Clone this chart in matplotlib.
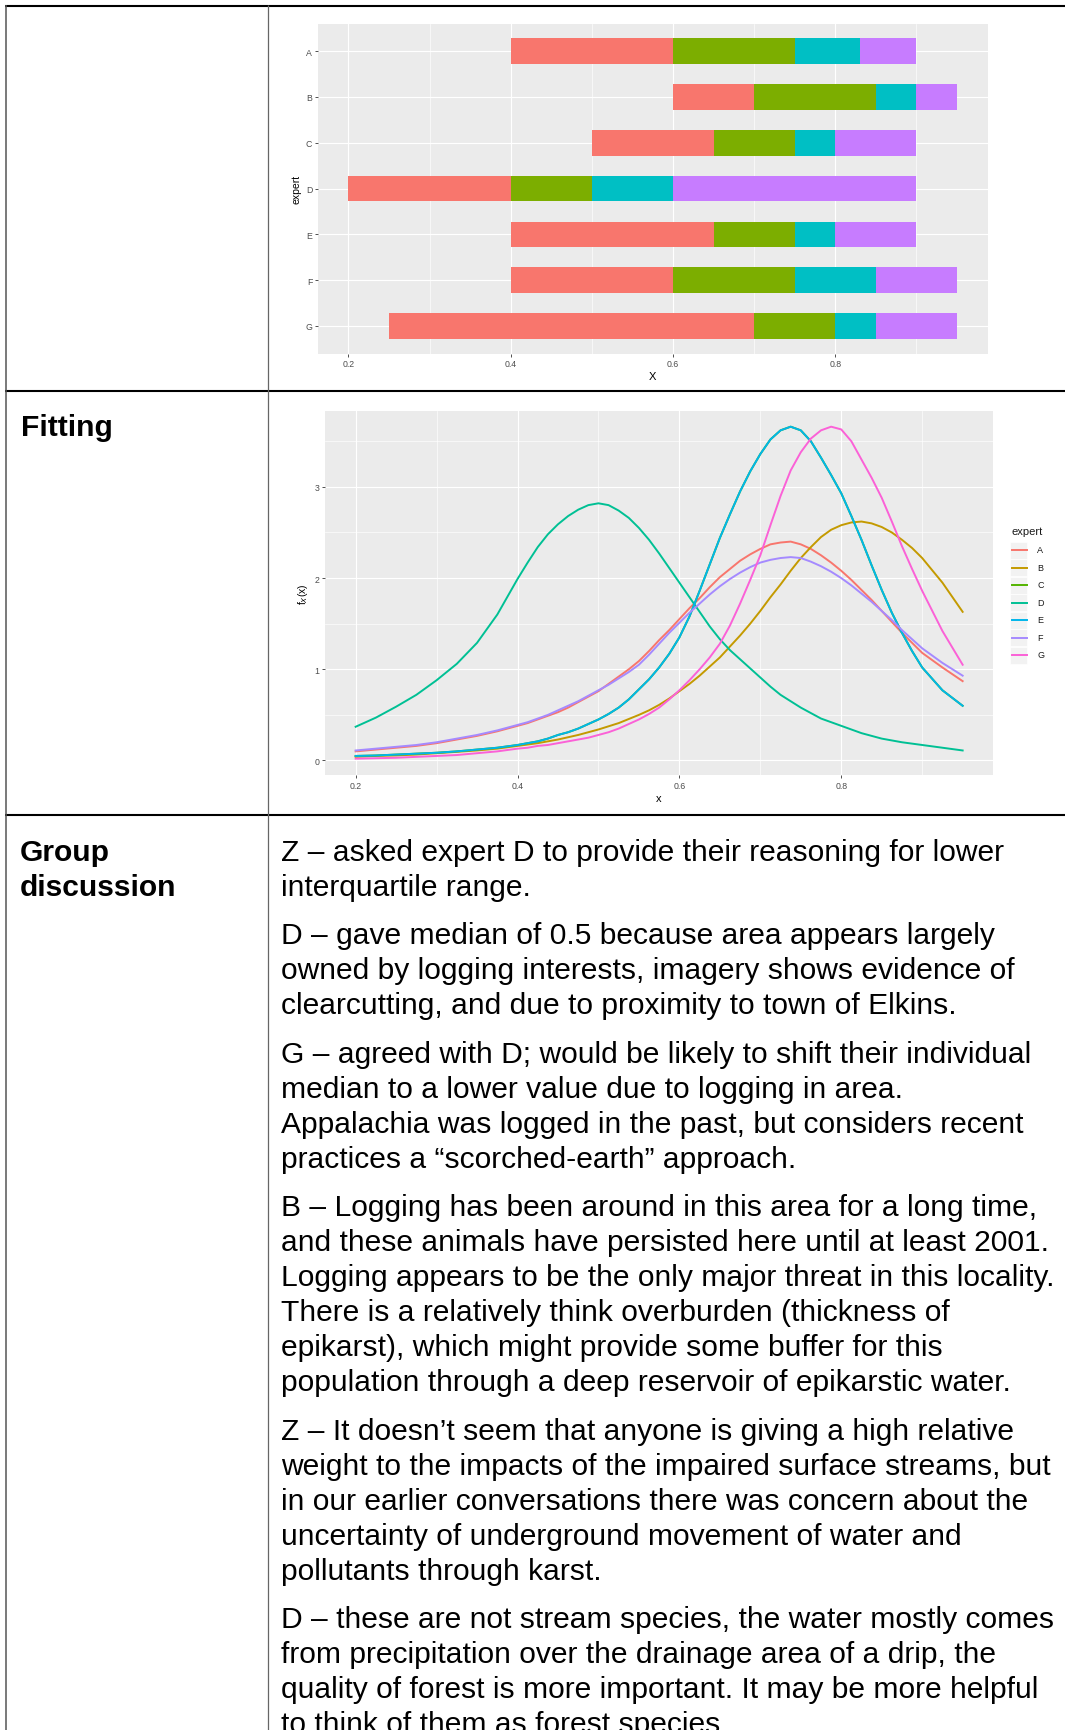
import numpy as np
import matplotlib.pyplot as plt
from matplotlib.patches import Rectangle

plt.rcParams['font.family'] = ['Liberation Sans', 'DejaVu Sans']

W, H = 1065, 1731

# ---------------------------------------------------------------------------
# Elicited values per expert (lowest, lower quartile, median, upper quartile, highest)
experts = ['A', 'B', 'C', 'D', 'E', 'F', 'G']
lowest  = [0.40, 0.60, 0.50, 0.20, 0.40, 0.40, 0.25]
q_low   = [0.60, 0.70, 0.65, 0.40, 0.65, 0.60, 0.70]
median  = [0.75, 0.85, 0.75, 0.50, 0.75, 0.75, 0.80]
q_high  = [0.83, 0.90, 0.80, 0.60, 0.80, 0.85, 0.85]
highest = [0.90, 0.95, 0.90, 0.90, 0.90, 0.95, 0.95]
seg_colors = ['#F8766D', '#7CAE00', '#00BFC4', '#C77CFF']

# Fitted densities f_X(x), one list per expert
x_grid = [0.2, 0.225, 0.25, 0.275, 0.3, 0.325, 0.35, 0.375, 0.4,
          0.4125, 0.425, 0.4375, 0.45, 0.4625, 0.475, 0.4875, 0.5, 0.5125, 0.525,
          0.5375, 0.55, 0.5625, 0.575, 0.5875, 0.6, 0.6125, 0.625, 0.6375, 0.65,
          0.6625, 0.675, 0.6875, 0.7, 0.7125, 0.725, 0.7375, 0.75, 0.7625, 0.775,
          0.7875, 0.8, 0.8125, 0.825, 0.8375, 0.85, 0.8625, 0.875, 0.8875, 0.9,
          0.925, 0.95]
dens_A = [0.10, 0.12, 0.14, 0.16, 0.19, 0.23, 0.27, 0.32, 0.38,
          0.41, 0.45, 0.49, 0.53, 0.58, 0.64, 0.70, 0.76, 0.84, 0.92,
          1.00, 1.09, 1.20, 1.32, 1.43, 1.55, 1.67, 1.78, 1.90, 2.01,
          2.10, 2.19, 2.26, 2.32, 2.37, 2.39, 2.40, 2.37, 2.32, 2.25,
          2.17, 2.08, 1.98, 1.87, 1.76, 1.64, 1.52, 1.40, 1.29, 1.18,
          1.02, 0.87]
dens_B = [0.04, 0.05, 0.055, 0.065, 0.08, 0.095, 0.11, 0.13, 0.16,
          0.175, 0.19, 0.21, 0.23, 0.255, 0.28, 0.31, 0.34, 0.375, 0.41,
          0.455, 0.50, 0.55, 0.61, 0.68, 0.76, 0.84, 0.93, 1.03, 1.13,
          1.25, 1.37, 1.50, 1.64, 1.79, 1.93, 2.08, 2.22, 2.34, 2.45,
          2.53, 2.58, 2.61, 2.62, 2.60, 2.56, 2.50, 2.42, 2.33, 2.22,
          1.95, 1.63]
# C has the same quartiles as E, its curve lies under E's
dens_C = [0.05, 0.055, 0.065, 0.075, 0.085, 0.10, 0.12, 0.14, 0.17,
          0.19, 0.21, 0.24, 0.28, 0.31, 0.35, 0.40, 0.45, 0.51, 0.58,
          0.67, 0.78, 0.89, 1.02, 1.17, 1.35, 1.58, 1.86, 2.15, 2.44,
          2.70, 2.95, 3.17, 3.36, 3.52, 3.62, 3.66, 3.62, 3.50, 3.32,
          3.13, 2.93, 2.68, 2.42, 2.14, 1.87, 1.62, 1.40, 1.20, 1.02,
          0.77, 0.60]
dens_D = [0.37, 0.47, 0.59, 0.72, 0.88, 1.06, 1.29, 1.60, 1.99,
          2.17, 2.34, 2.48, 2.59, 2.68, 2.75, 2.80, 2.82, 2.80, 2.74,
          2.66, 2.55, 2.42, 2.27, 2.11, 1.95, 1.79, 1.63, 1.47, 1.33,
          1.21, 1.11, 1.01, 0.91, 0.81, 0.72, 0.65, 0.58, 0.52, 0.46,
          0.42, 0.38, 0.34, 0.30, 0.27, 0.24, 0.22, 0.20, 0.185, 0.17,
          0.14, 0.11]
dens_E = [0.05, 0.055, 0.065, 0.075, 0.085, 0.10, 0.12, 0.14, 0.17,
          0.19, 0.21, 0.24, 0.28, 0.31, 0.35, 0.40, 0.45, 0.51, 0.58,
          0.67, 0.78, 0.89, 1.02, 1.17, 1.35, 1.58, 1.86, 2.15, 2.44,
          2.70, 2.95, 3.17, 3.36, 3.52, 3.62, 3.66, 3.62, 3.50, 3.32,
          3.13, 2.93, 2.68, 2.42, 2.14, 1.87, 1.62, 1.40, 1.20, 1.02,
          0.77, 0.60]
dens_F = [0.11, 0.13, 0.15, 0.17, 0.20, 0.24, 0.28, 0.33, 0.39,
          0.42, 0.46, 0.50, 0.55, 0.60, 0.65, 0.71, 0.77, 0.83, 0.90,
          0.97, 1.05, 1.16, 1.28, 1.40, 1.51, 1.62, 1.72, 1.82, 1.91,
          1.99, 2.06, 2.12, 2.17, 2.20, 2.22, 2.23, 2.22, 2.18, 2.13,
          2.07, 2.00, 1.92, 1.83, 1.74, 1.64, 1.54, 1.43, 1.33, 1.23,
          1.07, 0.93]
dens_G = [0.02, 0.025, 0.03, 0.04, 0.05, 0.06, 0.08, 0.10, 0.13,
          0.14, 0.16, 0.17, 0.19, 0.21, 0.23, 0.25, 0.28, 0.31, 0.35,
          0.40, 0.45, 0.51, 0.58, 0.67, 0.77, 0.88, 1.00, 1.13, 1.28,
          1.48, 1.72, 1.98, 2.25, 2.58, 2.90, 3.18, 3.38, 3.53, 3.62,
          3.66, 3.63, 3.50, 3.30, 3.10, 2.88, 2.62, 2.35, 2.10, 1.86,
          1.42, 1.05]
line_colors = ['#F8766D', '#C49A00', '#53B400', '#00C094', '#00B6EB', '#A58AFF', '#FB61D7']

# Table text
head_fitting = 'Fitting'
head_group = ['Group', 'discussion']
paragraphs = [
    ['Z \u2013 asked expert D to provide their reasoning for lower',
     'interquartile range.'],
    ['D \u2013 gave median of 0.5 because area appears largely',
     'owned by logging interests, imagery shows evidence of',
     'clearcutting, and due to proximity to town of Elkins.'],
    ['G \u2013 agreed with D; would be likely to shift their individual',
     'median to a lower value due to logging in area.',
     'Appalachia was logged in the past, but considers recent',
     'practices a \u201cscorched-earth\u201d approach.'],
    ['B \u2013 Logging has been around in this area for a long time,',
     'and these animals have persisted here until at least 2001.',
     'Logging appears to be the only major threat in this locality.',
     'There is a relatively think overburden (thickness of',
     'epikarst), which might provide some buffer for this',
     'population through a deep reservoir of epikarstic water.'],
    ['Z \u2013 It doesn\u2019t seem that anyone is giving a high relative',
     'weight to the impacts of the impaired surface streams, but',
     'in our earlier conversations there was concern about the',
     'uncertainty of underground movement of water and',
     'pollutants through karst.'],
    ['D \u2013 these are not stream species, the water mostly comes',
     'from precipitation over the drainage area of a drip, the',
     'quality of forest is more important. It may be more helpful',
     'to think of them as forest species.'],
]

# ---------------------------------------------------------------------------
fig = plt.figure(figsize=(W / 100, H / 100), dpi=100)

# page layer in pixel units (y downwards) for table rules, text and legend
ov = fig.add_axes([0, 0, 1, 1])
ov.set_xlim(0, W)
ov.set_ylim(H, 0)
ov.axis('off')

def px_axes(x0, y0, x1, y1):
    return fig.add_axes([x0 / W, 1 - y1 / H, (x1 - x0) / W, (y1 - y0) / H])

def gg_style(ax):
    ax.set_facecolor('#EBEBEB')
    for s in ax.spines.values():
        s.set_visible(False)
    ax.set_axisbelow(True)
    ax.grid(which='major', color='white', lw=0.8)
    ax.grid(which='minor', color='white', lw=0.45)
    ax.tick_params(which='major', length=2.2, width=0.6, color='#333333',
                   labelsize=6.3, labelcolor='#4D4D4D', pad=2)
    ax.tick_params(which='minor', length=0)

# table rules
rule = dict(solid_capstyle='butt')
ov.plot([5, W], [7, 7], color='black', lw=1.5, **rule)
ov.plot([5, W], [392, 392], color='black', lw=1.5, **rule)
ov.plot([5, W], [816, 816], color='black', lw=1.5, **rule)
ov.plot([5.5, 5.5], [6, H], color='#555555', lw=1.1, **rule)
ov.plot([268, 268], [6, H], color='#666666', lw=0.9, **rule)

# --- stacked interval bars -------------------------------------------------
ax1 = px_axes(318, 24.5, 987.5, 354.5)
gg_style(ax1)
pos = np.arange(len(experts))
cuts = [lowest, q_low, median, q_high, highest]
for k in range(4):
    start = np.array(cuts[k])
    stop = np.array(cuts[k + 1])
    ax1.barh(pos, stop - start, left=start, height=0.56, color=seg_colors[k], zorder=3)
ax1.set_xlim(0.1625, 0.9875)
ax1.set_ylim(6.6, -0.6)
ax1.set_xticks([0.2, 0.4, 0.6, 0.8])
ax1.set_xticks([0.3, 0.5, 0.7, 0.9], minor=True)
ax1.set_xticklabels(['0.2', '0.4', '0.6', '0.8'])
ax1.set_yticks(pos)
ax1.set_yticklabels(experts)
ax1.set_xlabel('X', fontsize=8, labelpad=2)
ax1.set_ylabel('expert', fontsize=7.5, labelpad=3)

# --- fitted densities ------------------------------------------------------
ax2 = px_axes(325.3, 412, 993, 776)
gg_style(ax2)
dens = [dens_A, dens_B, dens_C, dens_D, dens_E, dens_F, dens_G]
for name, y, c in zip(experts, dens, line_colors):
    ax2.plot(x_grid, y, color=c, lw=1.4, zorder=3, label=name)
ax2.set_xlim(0.1625, 0.9875)
ax2.set_ylim(-0.159, 3.832)
ax2.set_xticks([0.2, 0.4, 0.6, 0.8])
ax2.set_xticks([0.3, 0.5, 0.7, 0.9], minor=True)
ax2.set_xticklabels(['0.2', '0.4', '0.6', '0.8'])
ax2.set_yticks([0, 1, 2, 3])
ax2.set_yticks([0.5, 1.5, 2.5, 3.5], minor=True)
ax2.set_xlabel('x', fontsize=8, labelpad=2)
ax2.set_ylabel('f$_X$(x)', fontsize=7.5, labelpad=3)

# legend drawn on the page layer
ov.text(1011, 532, 'expert', fontsize=8, va='center', ha='left', color='#1A1A1A')
for i, (name, c) in enumerate(zip(experts, line_colors)):
    yk = 551 + i * 17.5
    ov.add_patch(Rectangle((1010, yk - 8.5), 17, 17, facecolor='#F2F2F2',
                           edgecolor='white', lw=0.5))
    ov.plot([1012, 1027], [yk, yk], color=c, lw=1.4)
    ov.text(1037, yk, name, fontsize=6.5, va='center', ha='left', color='#1A1A1A')

# --- table text ------------------------------------------------------------
fs = 21.6
ov.text(21, 436, head_fitting, fontsize=fs, weight='bold', va='baseline')
for i, s in enumerate(head_group):
    ov.text(20, 861 + i * 35, s, fontsize=fs, weight='bold', va='baseline')

line_no = 0
for p, lines in enumerate(paragraphs):
    for s in lines:
        ov.text(281, 861 + line_no * 35 + p * 13.4, s, fontsize=fs, va='baseline')
        line_no += 1

fig.savefig('out.png', dpi=100)
